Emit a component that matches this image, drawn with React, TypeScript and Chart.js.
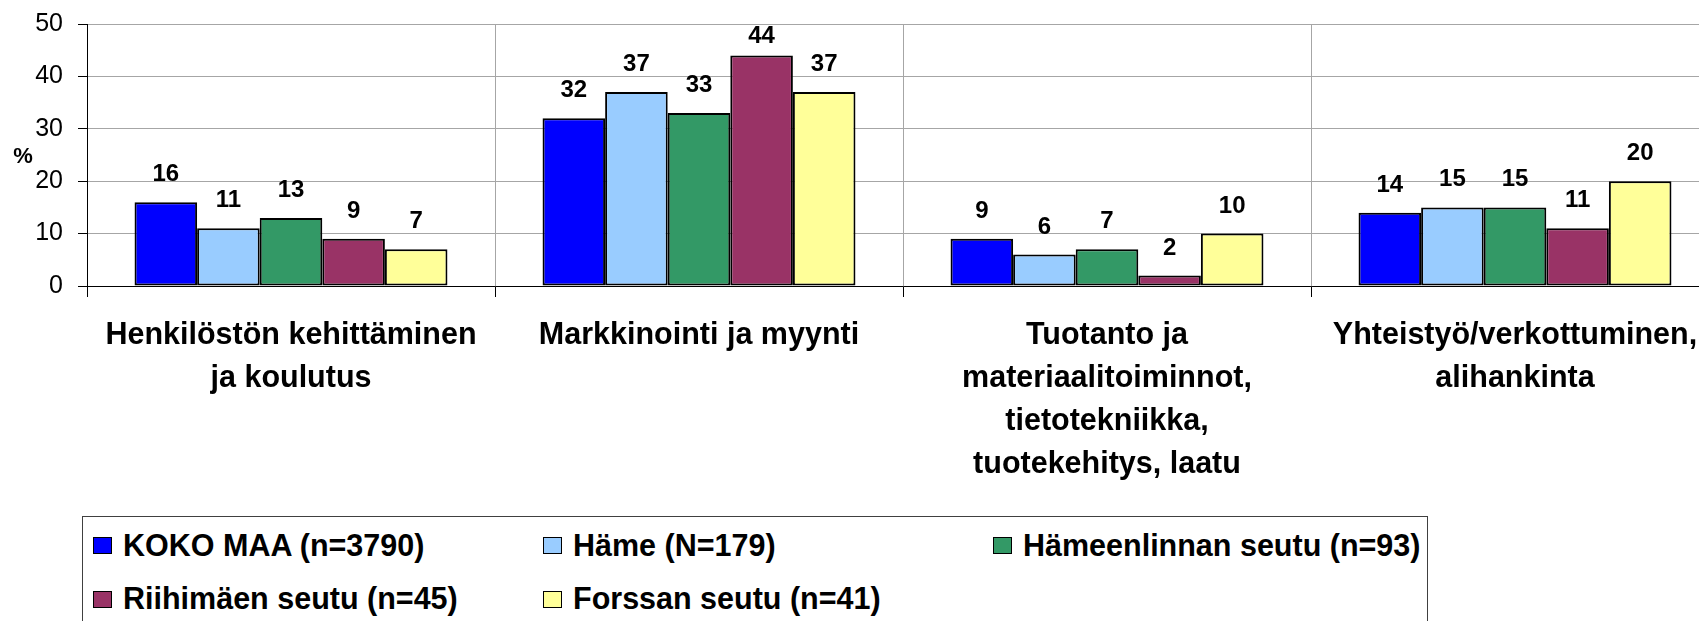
import React, { useEffect, useRef } from "react";
import { Chart, registerables } from "chart.js";

Chart.register(...registerables);

const categories: string[][] = [
  ["Henkilöstön kehittäminen", "ja koulutus"],
  ["Markkinointi ja myynti"],
  ["Tuotanto ja", "materiaalitoiminnot,", "tietotekniikka,", "tuotekehitys, laatu"],
  ["Yhteistyö/verkottuminen,", "alihankinta"],
];

const seriesNames = [
  "KOKO MAA (n=3790)",
  "Häme (N=179)",
  "Hämeenlinnan seutu (n=93)",
  "Riihimäen seutu (n=45)",
  "Forssan seutu (n=41)",
];

const kokoMaa = [16, 32, 9, 14];
const hame = [11, 37, 6, 15];
const hameenlinna = [13, 33, 7, 15];
const riihimaki = [9, 44, 2, 11];
const forssa = [7, 37, 10, 20];

const yTicks = [0, 10, 20, 30, 40, 50];

const seriesValues = [kokoMaa, hame, hameenlinna, riihimaki, forssa];
const seriesColors = ["#0000FF", "#99CCFF", "#339966", "#993366", "#FFFF99"];

const FONT = "'Liberation Sans', Arial, Helvetica, sans-serif";

const valueLabels = {
  id: "valueLabels",
  afterDatasetsDraw(chart: any) {
    const ctx = chart.ctx;
    const area = chart.chartArea;
    ctx.save();
    ctx.font = `bold 24px ${FONT}`;
    ctx.fillStyle = "#000";
    ctx.textAlign = "center";
    ctx.textBaseline = "alphabetic";
    chart.data.datasets.forEach((ds: any, i: number) => {
      const meta = chart.getDatasetMeta(i);
      meta.data.forEach((el: any, j: number) => {
        const base = Math.max(el.y - 21, area.top + 19);
        ctx.fillText(String(ds.data[j]), el.x, base);
      });
    });
    // axis unit
    ctx.font = `bold 22px ${FONT}`;
    ctx.fillText("%", 23, 163);
    ctx.restore();
  },
};

export default function App() {
  const ref = useRef<HTMLCanvasElement | null>(null);

  useEffect(() => {
    if (!ref.current) return;
    const chart = new Chart(ref.current, {
      type: "bar",
      data: {
        labels: categories as any,
        datasets: seriesValues.map((vals, i) => ({
          label: seriesNames[i],
          data: vals,
          backgroundColor: seriesColors[i],
          borderColor: "#000",
          borderWidth: 2,
          borderSkipped: false,
          categoryPercentage: 0.767,
          barPercentage: 1,
        })),
      },
      options: {
        responsive: false,
        animation: false,
        devicePixelRatio: 1,
        layout: { padding: { top: 24, right: 21, left: 0, bottom: 0 } },
        plugins: {
          legend: { display: false },
          tooltip: { enabled: false },
        },
        scales: {
          x: {
            grid: {
              color: "#a6a6a6",
              tickColor: "#000",
              tickLength: 11,
              lineWidth: 1,
            },
            border: { color: "#000", width: 1 },
            ticks: {
              color: "#000",
              autoSkip: false,
              maxRotation: 0,
              minRotation: 0,
              padding: 17,
              font: { family: FONT, size: 30.5, weight: "bold", lineHeight: "43px" } as any,
            },
            afterFit(scale: any) {
              scale.height = 335;
              scale.paddingLeft = 0;
              scale.paddingRight = 0;
            },
          },
          y: {
            min: 0,
            max: 50,
            afterBuildTicks(scale: any) {
              scale.ticks = yTicks.map((v) => ({ value: v }));
            },
            grid: {
              color: "#a6a6a6",
              tickColor: "#000",
              tickLength: 9,
              lineWidth: 1,
            },
            border: { color: "#000", width: 1 },
            ticks: {
              color: "#000",
              padding: 15,
              font: { family: FONT, size: 25 },
            },
            afterFit(scale: any) {
              scale.width = 87;
              scale.paddingTop = 0;
              scale.paddingBottom = 0;
            },
          },
        },
      },
      plugins: [valueLabels],
    });
    return () => chart.destroy();
  }, []);

  const rowsCenter = [543.5, 597];
  const legendLeft = 82;
  const legendTop = 516;

  return (
    <div
      style={{
        position: "fixed",
        left: 0,
        top: 0,
        width: 1699,
        height: 621,
        overflow: "hidden",
        background: "#fff",
      }}
    >
      <canvas
        ref={ref}
        width={1740}
        height={621}
        style={{ position: "absolute", left: 0, top: 0, width: 1740, height: 621 }}
      />
      <div
        style={{
          position: "absolute",
          left: legendLeft,
          top: legendTop,
          width: 1428 - legendLeft,
          height: 200,
          border: "1px solid #404040",
          boxSizing: "border-box",
          background: "#fff",
        }}
      >
        {seriesNames.map((name, i) => {
          const col = i % 3;
          const row = Math.floor(i / 3);
          const cy = rowsCenter[row] - legendTop;
          return (
            <div
              key={name}
              style={{
                position: "absolute",
                left: 10 + col * 450,
                top: cy - 20,
                height: 40,
                display: "flex",
                alignItems: "center",
                whiteSpace: "nowrap",
              }}
            >
              <span
                style={{
                  display: "inline-block",
                  width: 19,
                  height: 17,
                  boxSizing: "border-box",
                  border: "1.5px solid #000",
                  background: seriesColors[i],
                  marginRight: 11,
                  position: "relative",
                  top: 1,
                }}
              />
              <span
                style={{
                  fontFamily: FONT,
                  fontWeight: "bold",
                  fontSize: 30.5,
                  lineHeight: "40px",
                  color: "#000",
                }}
              >
                {name}
              </span>
            </div>
          );
        })}
      </div>
    </div>
  );
}
